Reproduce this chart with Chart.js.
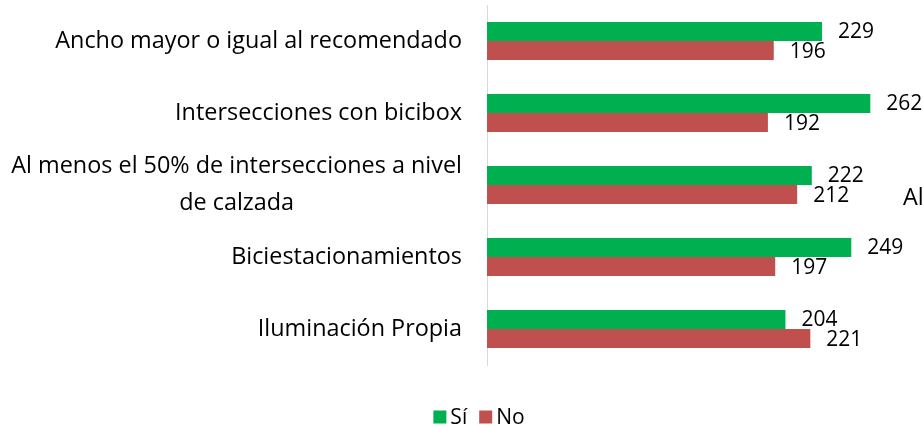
<!DOCTYPE html>
<html>
<head>
<meta charset="utf-8">
<script src="https://cdn.jsdelivr.net/npm/chart.js@4/dist/chart.umd.min.js"></script>
<style>
    html, body { margin: 0; padding: 0; background: #fff; }
    #wrap { width: 923px; height: 426px; position: relative; }
</style>
</head>
<body>
<div id="wrap"><canvas id="chart"></canvas></div>
<script>
const categories = [
    ["Ancho mayor o igual al recomendado"],
    ["Intersecciones con bicibox"],
    ["Al menos el 50% de intersecciones a nivel", "de calzada"],
    ["Biciestacionamientos"],
    ["Iluminación Propia"]
];
const seriesNames = ["Sí", "No"];
const siValues = [229, 262, 222, 249, 204];
const noValues = [196, 192, 212, 197, 221];
const strayLabel = "Al"; // clipped label visible at the right edge of the original

const GREEN = "#00B050";
const RED = "#C0504D";
const FONT = '"Open Sans", "DejaVu Sans", sans-serif';

// category labels: block right aligned, lines centered inside it
const categoryLabelsPlugin = {
    id: "categoryLabels",
    afterDraw(chart) {
        const ctx = chart.ctx;
        const yScale = chart.scales.y;
        const area = chart.chartArea;
        ctx.save();
        ctx.font = "23.4px " + FONT;
        ctx.fillStyle = "#000";
        ctx.textAlign = "center";
        ctx.textBaseline = "middle";
        const lineH = 37;
        categories.forEach((lines, i) => {
            const y = yScale.getPixelForValue(i);
            let widest = 0;
            lines.forEach(l => { widest = Math.max(widest, ctx.measureText(l).width); });
            const cx = area.left - 25 - widest / 2;
            const startY = y - (lines.length - 1) * lineH / 2;
            lines.forEach((l, k) => ctx.fillText(l, cx, startY + k * lineH));
        });
        // stray clipped text
        ctx.textAlign = "left";
        ctx.fillText(strayLabel, 903, 198);
        ctx.restore();
    }
};

// value labels at the end of each bar
const valueLabelsPlugin = {
    id: "valueLabels",
    afterDatasetsDraw(chart) {
        const ctx = chart.ctx;
        ctx.save();
        ctx.font = "21px " + FONT;
        ctx.fillStyle = "#000";
        ctx.textAlign = "left";
        ctx.textBaseline = "middle";
        chart.data.datasets.forEach((ds, di) => {
            const meta = chart.getDatasetMeta(di);
            meta.data.forEach((bar, i) => {
                ctx.fillText(String(ds.data[i]), bar.x + 16, bar.y + 1);
            });
        });
        ctx.restore();
    }
};

// bottom legend
const bottomLegendPlugin = {
    id: "bottomLegend",
    afterDraw(chart) {
        const ctx = chart.ctx;
        ctx.save();
        ctx.font = "21px " + FONT;
        ctx.textBaseline = "middle";
        const box = 13, gapText = 4, gapItem = 12;
        const items = chart.data.datasets.map(ds => ({ text: ds.label, color: ds.backgroundColor }));
        let total = 0;
        items.forEach((it, i) => {
            it.w = box + gapText + ctx.measureText(it.text).width;
            total += it.w + (i > 0 ? gapItem : 0);
        });
        let x = 479 - total / 2;
        const y = 417;
        items.forEach(it => {
            ctx.fillStyle = it.color;
            ctx.fillRect(x, y - box / 2, box, box);
            ctx.fillStyle = "#000";
            ctx.fillText(it.text, x + box + gapText, y + 1);
            x += it.w + gapItem;
        });
        ctx.restore();
    }
};

new Chart(document.getElementById("chart"), {
    type: "bar",
    data: {
        labels: categories,
        datasets: [
            { label: seriesNames[0], data: siValues, backgroundColor: GREEN, borderWidth: 0 },
            { label: seriesNames[1], data: noValues, backgroundColor: RED, borderWidth: 0 }
        ]
    },
    options: {
        indexAxis: "y",
        responsive: true,
        maintainAspectRatio: false,
        animation: false,
        datasets: { bar: { categoryPercentage: 0.53, barPercentage: 1 } },
        layout: { padding: { top: 5, right: 0, bottom: 61, left: 0 } },
        plugins: { legend: { display: false }, tooltip: { enabled: false } },
        scales: {
            x: { display: false, min: 0, max: 298 },
            y: {
                grid: { display: false },
                border: { display: true, color: "#D9D9D9", width: 1 },
                ticks: { display: false },
                afterFit(scale) { scale.width = 487; }
            }
        }
    },
    plugins: [categoryLabelsPlugin, valueLabelsPlugin, bottomLegendPlugin]
});
</script>
</body>
</html>
